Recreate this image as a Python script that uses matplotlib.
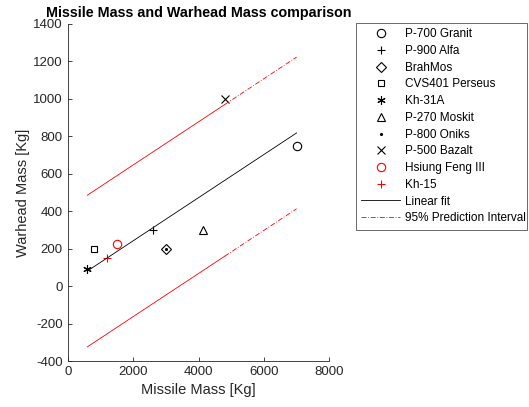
import numpy as np
import matplotlib.pyplot as plt
from matplotlib.lines import Line2D

plt.rcParams['font.family'] = ['Liberation Sans', 'DejaVu Sans']
plt.rcParams['axes.unicode_minus'] = False

# missile data
names = ['P-700 Granit', 'P-900 Alfa', 'BrahMos', 'CVS401 Perseus', 'Kh-31A',
         'P-270 Moskit', 'P-800 Oniks', 'P-500 Bazalt', 'Hsiung Feng III', 'Kh-15']
missile_mass = [7000, 2600, 3000, 800, 600, 4150, 3000, 4800, 1500, 1200]
warhead_mass = [750, 300, 200, 200, 90, 300, 200, 1000, 225, 150]
markers = ['o', '+', 'D', 's', (6, 2, 0), '^', '.', 'x', 'o', '+']
colors = ['k', 'k', 'k', 'k', 'k', 'k', 'k', 'k', 'r', 'r']

# half width of the prediction band
pi_half = 405
solid_until = 4800

fig = plt.figure(figsize=(5.29, 4.07), dpi=100)
ax = fig.add_axes([67.7 / 529, 1 - 361 / 407, (329.3 - 67.7) / 529, (361 - 24) / 407])

axc = '#262626'
for i in range(len(names)):
    m = markers[i]
    kw = dict(markersize=6, color=colors[i], linestyle='none', label=names[i])
    if m in ('o', 'D', 's', '^'):
        kw.update(markerfacecolor='none', markeredgewidth=0.8)
        if m == 'D':
            kw['markersize'] = 5
        if m == 's':
            kw['markersize'] = 5
    elif m == '.':
        kw['markersize'] = 2.5
    else:
        kw['markeredgewidth'] = 0.8
    ax.plot(missile_mass[i], warhead_mass[i], marker=m, **kw)

# linear fit
p = np.polyfit(missile_mass, warhead_mass, 1)
xf = np.array([min(missile_mass), max(missile_mass)])
ax.plot(xf, np.polyval(p, xf), color='k', lw=0.6, label='Linear fit')

# prediction interval (solid looking part then dash-dot)
x1 = np.array([min(missile_mass), solid_until])
x2 = np.array([solid_until, max(missile_mass)])
for s in (1, -1):
    ax.plot(x1, np.polyval(p, x1) + s * pi_half, color='r', lw=0.6)
    ax.plot(x2, np.polyval(p, x2) + s * pi_half, color='r', lw=0.6,
            linestyle=(0, (6, 2, 1, 2)))

ax.set_xlim(0, 8000)
ax.set_ylim(-400, 1400)
ax.set_xticks(np.arange(0, 8001, 2000))
ax.set_yticks(np.arange(-400, 1401, 200))
ax.spines['top'].set_visible(False)
ax.spines['right'].set_visible(False)
for sp in ('left', 'bottom'):
    ax.spines[sp].set_color(axc)
    ax.spines[sp].set_linewidth(0.6)
ax.tick_params(direction='in', length=3, width=0.6, colors=axc, labelsize=9.5)
ax.set_xlabel('Missile Mass [Kg]', fontsize=10.5, color=axc, labelpad=4)
ax.set_ylabel('Warhead Mass [Kg]', fontsize=10.5, color=axc, labelpad=2)
ax.set_title('Missile Mass and Warhead Mass comparison', fontsize=10.3, fontweight='bold', pad=5)

handles, labels = ax.get_legend_handles_labels()
handles.append(Line2D([], [], color='r', lw=0.6, linestyle=(0, (6, 2, 1, 2))))
labels.append('95% Prediction Interval')
leg = fig.legend(handles, labels, loc='upper left',
                 bbox_to_anchor=(356 / 529, 1 - 223 / 407, (527 - 356) / 529, (223 - 23) / 407),
                 mode='expand', fontsize=8.5, frameon=True, fancybox=False,
                 edgecolor=axc, handlelength=3.3, handletextpad=0.4,
                 borderpad=0.45, labelspacing=0.4, borderaxespad=0)
leg.get_frame().set_linewidth(0.6)

fig.savefig('out.png', dpi=100)
